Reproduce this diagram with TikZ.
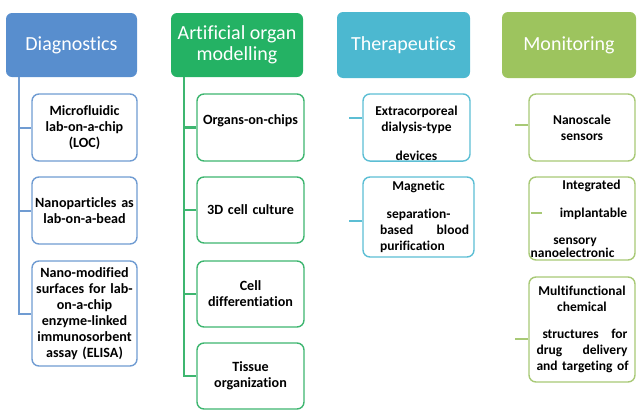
\documentclass[tikz,border=0pt]{standalone}
\usepackage{fontspec}
\setmainfont{Carlito}[Ligatures=NoCommon]

\definecolor{diagfill}{RGB}{88,142,206}
\definecolor{diagline}{RGB}{112,156,210}
\definecolor{artfill}{RGB}{36,178,100}
\definecolor{artline}{RGB}{62,182,112}
\definecolor{therfill}{RGB}{76,184,208}
\definecolor{therline}{RGB}{92,190,212}
\definecolor{monfill}{RGB}{157,196,94}
\definecolor{monline}{RGB}{168,201,118}

\begin{document}
\begin{tikzpicture}[x=1pt,y=-1pt,
    head/.style={rounded corners=6pt, minimum height=64pt, inner sep=0pt,
        align=center, text=white, font=\fontsize{20}{21}\selectfont},
    item/.style={draw, fill=white, rounded corners=7pt, line width=1.4pt,
        align=center, inner xsep=2pt, inner ysep=0pt,
        font=\bfseries\fontsize{13.5}{16}\selectfont},
    bigitem/.style={item, font=\bfseries\fontsize{14.1}{16}\selectfont},
    conn/.style={line width=2pt}]
    \useasboundingbox (0,0) rectangle (640,418);

    % headers
    \node[head, fill=diagfill, minimum width=131pt] (d0) at (71.5,45) {Diagnostics};
    \node[head, fill=artfill, minimum width=132pt] (a0) at (237,45) {Artificial organ\\modelling};
    \node[head, fill=therfill, minimum width=133pt, minimum height=66pt] (t0) at (403.5,45) {Therapeutics};
    \node[head, fill=monfill, minimum width=134pt, minimum height=66pt] (m0) at (569,45) {Monitoring};

    % diagnostics
    \node[bigitem, draw=diagline, text width=101pt, minimum height=67pt] (d1) at (84.5,127.5) {Microfluidic\\lab-on-a-chip\\(LOC)};
    \node[bigitem, draw=diagline, text width=101pt, minimum height=67pt] (d2) at (84.5,210.5) {Nanoparticles as\\lab-on-a-bead};
    \node[bigitem, draw=diagline, text width=101pt, minimum height=105pt] (d3) at (84.5,313.5) {Nano-modified\\surfaces for lab-\\on-a-chip\\enzyme-linked\\immunosorbent\\assay (ELISA)};

    \coordinate (dtrunk) at (19,77);
    \draw[conn, diagline] (dtrunk) |- (d3.west);
    \draw[conn, diagline] (d1.west) -- (d1.west -| dtrunk);
    \draw[conn, diagline] (d2.west) -- (d2.west -| dtrunk);

    % artificial organ modelling
    \node[bigitem, draw=artline, text width=103pt, minimum height=67pt] (a1) at (250.5,127.5) {Organs-on-chips\\ \mbox{}};
    \node[bigitem, draw=artline, text width=103pt, minimum height=66pt] (a2) at (250.5,210) {3D cell culture};
    \node[bigitem, draw=artline, text width=103pt, minimum height=66pt] (a3) at (250.5,294) {Cell\\differentiation};
    \node[bigitem, draw=artline, text width=103pt, minimum height=66pt] (a4) at (250.5,376) {Tissue\\organization};

    \coordinate (atrunk) at (184,77);
    \draw[conn, artline] (atrunk) |- (a4.west);
    \draw[conn, artline, line width=3.5pt] (a1.west) -- (a1.west -| atrunk);
    \draw[conn, artline] (a2.west) -- (a2.west -| atrunk);
    \draw[conn, artline] (a3.west) -- (a3.west -| atrunk);

    % therapeutics
    \node[item, draw=therline, text width=103pt, minimum height=67pt] (t1) at (416.5,127.5) {\mbox{}\\[6pt]Extracorporeal\\dialysis-type\\[13pt]devices};
    \node[item, draw=therline, text width=107pt, minimum height=80pt] (t2) at (418.5,217) {Magnetic\\[12pt]separation-\\\hspace*{12pt}\makebox[89pt][s]{based\hfill blood}\\\hspace*{12pt}\makebox[89pt][l]{purification}};

    \draw[conn, therline] ([yshift=10pt]t1.west) -- ++(-13,0);
    \draw[conn, therline] ([yshift=-4pt]t2.west) -- ++(-13,0);

    % monitoring
    \node[item, draw=monline, text width=102pt, minimum height=67pt] (m1) at (582,127.5) {Nanoscale\\sensors};
    \node[item, draw=monline, text width=102pt, minimum height=83pt] (m2) at (582,218.5) {\hspace*{19pt}Integrated\\[12pt]\hspace*{23pt}implantable\\[11pt]\hspace*{-14pt}sensory\\[-3pt]\hspace*{-19pt}nanoelectronic};
    \node[item, draw=monline, text width=102pt, minimum height=105pt] (m3) at (582,329.5) {Multifunctional\\chemical\\[11pt]\makebox[91pt][s]{\hspace*{6pt}structures\hfill for}\\\makebox[91pt][s]{drug\hfill delivery}\\\makebox[91pt][l]{and targeting of}};

    \draw[conn, monline] ([yshift=2.5pt]m1.west) -- ++(-13,0);
    \draw[conn, monline] ([xshift=3pt,yshift=5.5pt]m2.west) -- ++(11,0);
    \draw[conn, monline] ([yshift=-9.5pt]m3.west) -- ++(-13,0);
\end{tikzpicture}
\end{document}
